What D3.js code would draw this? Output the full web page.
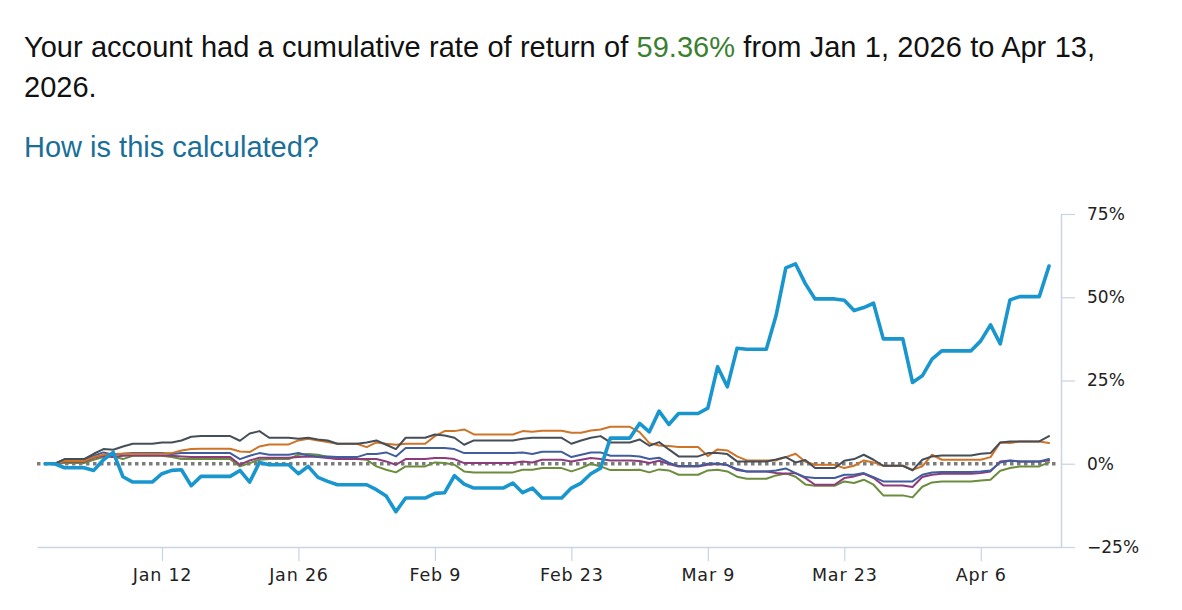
<!DOCTYPE html>
<html>
<head>
<meta charset="utf-8">
<script src="https://cdn.jsdelivr.net/npm/d3@7"></script>
<style>
  body { margin: 0; background: #fff; width: 1182px; height: 610px; overflow: hidden; position: relative; }
  .summary {
    position: absolute; left: 24px; top: 27px; width: 1120px;
    font-family: "Liberation Sans", Arial, sans-serif; font-size: 29px; line-height: 40px; color: #111;
    word-spacing: 0.3px;
  }
  .summary .pct { color: #3b7f31; }
  .howto {
    position: absolute; left: 24px; top: 127px;
    font-family: "Liberation Sans", Arial, sans-serif; font-size: 29px; line-height: 40px; color: #1a6f99;
  }
  #chart { position: absolute; left: 0; top: 0; }
  .axis text { font-family: "DejaVu Sans", sans-serif; font-size: 17px; fill: #222; }
  .axis.x text { font-size: 17.5px; letter-spacing: 0.8px; }
</style>
</head>
<body>
<div class="summary">Your account had a cumulative rate of return of <span class="pct">59.36%</span> from Jan 1, 2026 to Apr 13, 2026.</div>
<div class="howto">How is this calculated?</div>
<div id="chart"></div>
<script>
// Daily values (%), Dec 31 2025 .. Apr 13 2026; weekends/holidays carry the prior close
const dates = d3.timeDay.range(new Date(2025, 11, 31), new Date(2026, 3, 14));

const accountReturn = [
  0, 0, -1.2, -1.2, -1.2, -2.0, 1.2, 3.4, -3.9, -5.5,
  -5.5, -5.5, -3.0, -2.0, -1.8, -6.6, -3.8, -3.8, -3.8, -3.8,
  -2.0, -5.5, 0.4, -0.3, -0.3, -0.3, -3.0, -0.8, -4.1, -5.3,
  -6.3, -6.3, -6.3, -6.3, -7.8, -9.7, -14.4, -10.3, -10.3, -10.3,
  -8.9, -8.7, -3.6, -6.1, -7.3, -7.3, -7.3, -7.3, -5.8, -8.7,
  -7.3, -10.3, -10.3, -10.3, -7.3, -5.8, -3.0, -1.3, 7.7, 7.7,
  7.7, 12.1, 9.6, 15.8, 11.8, 15.1, 15.1, 15.1, 16.7, 29.1,
  23.1, 34.7, 34.4, 34.4, 34.4, 44.5, 58.8, 60.0, 54.1, 49.5,
  49.5, 49.5, 49.1, 46.0, 46.9, 48.2, 37.5, 37.5, 37.5, 24.4,
  26.4, 31.4, 33.9, 33.9, 33.9, 33.9, 36.9, 41.7, 36.0, 49.2,
  50.2, 50.2, 50.2, 59.36
];
const grayReturn = [
  0, 0, 1.4, 1.4, 1.4, 3.0, 4.4, 4.2, 5.2, 6.0,
  6.0, 6.0, 6.4, 6.4, 7.0, 8.1, 8.3, 8.3, 8.3, 8.3,
  6.9, 9.1, 9.8, 7.8, 7.8, 7.8, 7.5, 7.8, 7.3, 7.0,
  6.0, 6.0, 6.0, 6.4, 7.0, 5.7, 4.4, 7.8, 7.8, 7.8,
  8.8, 8.5, 7.8, 5.7, 7.0, 7.0, 7.0, 7.0, 7.0, 7.5,
  7.8, 7.8, 7.8, 7.8, 6.0, 7.0, 7.8, 8.3, 6.4, 6.4,
  6.4, 7.3, 5.4, 6.5, 4.3, 2.2, 2.2, 2.2, 3.2, 3.2,
  2.9, 0.7, 0.7, 0.7, 0.7, 1.3, 2.0, 0.4, 1.1, -1.3,
  -1.3, -1.3, 0.9, 1.4, 2.7, 1.2, -0.6, -0.6, -0.6, -2.0,
  1.2, 2.2, 2.5, 2.5, 2.5, 2.5, 3.0, 3.2, 6.4, 6.7,
  6.7, 6.7, 6.7, 8.3
];
const orangeReturn = [
  0, 0, 0.8, 0.8, 0.8, 2.0, 2.7, 2.9, 3.0, 3.0,
  3.0, 3.0, 3.0, 3.2, 4.0, 4.4, 4.5, 4.5, 4.5, 4.5,
  3.7, 3.5, 5.2, 5.8, 5.8, 5.8, 7.0, 7.5, 7.0, 6.5,
  6.0, 6.0, 6.0, 5.0, 6.4, 6.0, 5.7, 6.0, 6.0, 6.0,
  8.3, 9.8, 9.8, 10.3, 8.8, 8.8, 8.8, 8.8, 8.8, 9.8,
  9.6, 9.9, 9.9, 9.9, 9.3, 9.3, 10.0, 10.3, 11.1, 11.1,
  11.1, 9.5, 6.2, 5.5, 5.3, 5.0, 5.0, 5.0, 2.3, 4.3,
  4.0, 2.2, 1.0, 1.0, 1.0, 1.0, 2.0, 3.0, 0.6, -0.3,
  -0.3, -0.3, -1.3, -0.6, 1.0, 0.4, -0.6, -0.6, -0.6, -1.8,
  -0.8, 2.7, 1.2, 1.2, 1.2, 1.2, 1.2, 2.0, 6.4, 6.2,
  6.7, 6.7, 6.7, 6.2
];
const navyReturn = [
  0, 0, 1.2, 1.2, 1.2, 2.4, 3.4, 2.7, 3.0, 3.2,
  3.2, 3.2, 3.2, 2.9, 3.2, 3.2, 3.2, 3.2, 3.2, 3.2,
  1.4, 2.4, 3.2, 2.7, 2.7, 2.7, 3.2, 2.5, 2.2, 2.2,
  2.0, 2.0, 2.0, 2.9, 2.9, 3.4, 2.2, 4.7, 4.7, 4.7,
  4.7, 4.7, 4.4, 3.2, 3.2, 3.2, 3.2, 3.2, 3.2, 3.4,
  2.9, 3.6, 3.6, 3.6, 2.0, 2.7, 3.4, 3.4, 2.4, 2.4,
  2.4, 2.2, 1.4, 1.8, 0.3, -0.7, -0.7, -0.7, 0, 0.1,
  -0.4, -1.6, -2.3, -2.3, -2.3, -2.0, -1.4, -2.8, -4.0, -4.3,
  -4.3, -4.3, -3.3, -3.3, -2.8, -4.0, -5.3, -5.3, -5.3, -5.3,
  -3.3, -2.6, -2.5, -2.5, -2.5, -2.5, -2.3, -2.0, 0.4, 0.9,
  0.7, 0.7, 0.7, 1.4
];
const purpleReturn = [
  0, 0, 0.6, 0.6, 0.6, 1.8, 2.4, 2.0, 2.4, 2.5,
  2.5, 2.5, 2.5, 2.4, 2.2, 2.0, 2.0, 2.0, 2.0, 2.0,
  -0.3, 1.0, 1.8, 1.8, 1.8, 1.8, 2.0, 2.2, 2.0, 1.7,
  1.4, 1.4, 1.4, 1.4, 1.4, 0.7, -0.3, 1.4, 1.4, 1.4,
  1.7, 1.7, 1.4, 0.2, 0.2, 0.2, 0.2, 0.2, 0.2, 0.7,
  0.4, 1.2, 1.2, 1.2, 0.7, 1.2, 1.7, 1.4, 1.0, 1.0,
  1.0, 0.8, 0.2, 0.9, -0.1, -0.8, -0.8, -0.8, -0.3, -0.1,
  -0.4, -1.9, -2.3, -2.3, -2.3, -2.8, -3.0, -2.8, -4.3, -6.3,
  -6.3, -6.3, -4.3, -3.8, -3.0, -4.3, -6.5, -6.5, -6.5, -7.0,
  -4.0, -3.3, -3.0, -3.0, -3.0, -3.0, -2.8, -2.3, 0.7, 1.0,
  0.7, 0.7, 0.7, 1.0
];
const greenReturn = [
  0, 0, 0.2, 0.2, 0.2, 1.2, 2.0, 2.2, 1.4, 2.4,
  2.4, 2.4, 2.4, 2.0, 1.4, 1.4, 1.4, 1.4, 1.4, 1.4,
  -0.8, 0.2, 1.2, 1.4, 1.4, 1.4, 2.7, 2.9, 2.7, 2.0,
  1.4, 1.4, 1.4, 1.2, -0.8, -1.8, -2.6, -0.8, -0.8, -0.8,
  0.4, 0.2, -0.3, -2.3, -2.6, -2.6, -2.6, -2.6, -2.6, -1.8,
  -1.8, -1.3, -1.3, -1.3, -2.3, -1.3, 0, -0.8, -1.9, -1.9,
  -1.9, -1.8, -2.6, -1.7, -2.0, -3.3, -3.3, -3.3, -2.0, -1.8,
  -2.3, -3.9, -4.5, -4.5, -4.5, -3.5, -2.9, -3.9, -6.2, -6.6,
  -6.6, -6.6, -5.3, -5.8, -4.8, -6.3, -9.5, -9.5, -9.5, -10.1,
  -6.9, -5.6, -5.3, -5.3, -5.3, -5.3, -5.0, -4.8, -2.1, -1.3,
  -0.8, -0.8, -0.8, 0.4
];

const yTicks = [-25, 0, 25, 50, 75];
const xTicks = [
  new Date(2026, 0, 12), new Date(2026, 0, 26), new Date(2026, 1, 9), new Date(2026, 1, 23),
  new Date(2026, 2, 9), new Date(2026, 2, 23), new Date(2026, 3, 6)
];

// drawn back to front
const series = [
  { name: "green",   values: greenReturn,   color: "#6b8d3d", width: 2 },
  { name: "purple",  values: purpleReturn,  color: "#8c3c7d", width: 2 },
  { name: "navy",    values: navyReturn,    color: "#405e9c", width: 2 },
  { name: "orange",  values: orangeReturn,  color: "#cd7428", width: 2 },
  { name: "gray",    values: grayReturn,    color: "#464e58", width: 2 },
  { name: "account", values: accountReturn, color: "#1a96cf", width: 3.6 }
];

const W = 1182, H = 610;
const plotLeft = 37, plotRight = 1061, plotTop = 214, plotBottom = 547;

const svg = d3.select("#chart").append("svg")
  .attr("width", W)
  .attr("height", H);

const x = d3.scaleTime()
  .domain([dates[0], dates[dates.length - 1]])
  .range([45, 1049]);
// widen the scale so the axis runs past the first/last day
x.domain([x.invert(plotLeft), x.invert(plotRight)]).range([plotLeft, plotRight]);

const y = d3.scaleLinear().domain([-25, 75]).range([plotBottom, plotTop]);

const axisColor = "#c9d4e4";

// Eje X
const gx = svg.append("g")
  .attr("class", "axis x")
  .attr("transform", `translate(0,${plotBottom})`)
  .call(d3.axisBottom(x)
    .tickValues(xTicks)
    .tickSize(14)
    .tickPadding(8)
    .tickSizeOuter(0)
    .tickFormat(d3.timeFormat("%b %-d")));
gx.select(".domain").attr("stroke", axisColor).attr("stroke-width", 1.5);
gx.selectAll(".tick line").attr("stroke", axisColor).attr("stroke-width", 1.2);

// Eje Y (derecha)
const gy = svg.append("g")
  .attr("class", "axis y")
  .attr("transform", `translate(${plotRight},0)`)
  .call(d3.axisRight(y)
    .tickValues(yTicks)
    .tickSize(14)
    .tickPadding(12)
    .tickSizeOuter(0)
    .tickFormat(d => d3.format("d")(d) + "%"));
gy.select(".domain").attr("stroke", axisColor).attr("stroke-width", 1.5);
gy.selectAll(".tick line").attr("stroke", axisColor).attr("stroke-width", 1.2);

// Linea de referencia 0%
svg.append("line")
  .attr("x1", plotLeft)
  .attr("x2", 1056)
  .attr("y1", y(0))
  .attr("y2", y(0))
  .attr("stroke", "#7c7c7c")
  .attr("stroke-width", 3.5)
  .attr("stroke-dasharray", "3.5,3.5");

// Lineas
const line = d3.line()
  .x((d, i) => x(dates[i]))
  .y(d => y(d));

svg.selectAll("path.serie")
  .data(series)
  .enter()
  .append("path")
  .attr("class", "serie")
  .attr("d", d => line(d.values))
  .attr("fill", "none")
  .attr("stroke", d => d.color)
  .attr("stroke-width", d => d.width)
  .attr("stroke-linejoin", "round")
  .attr("stroke-linecap", "round");
</script>
</body>
</html>
